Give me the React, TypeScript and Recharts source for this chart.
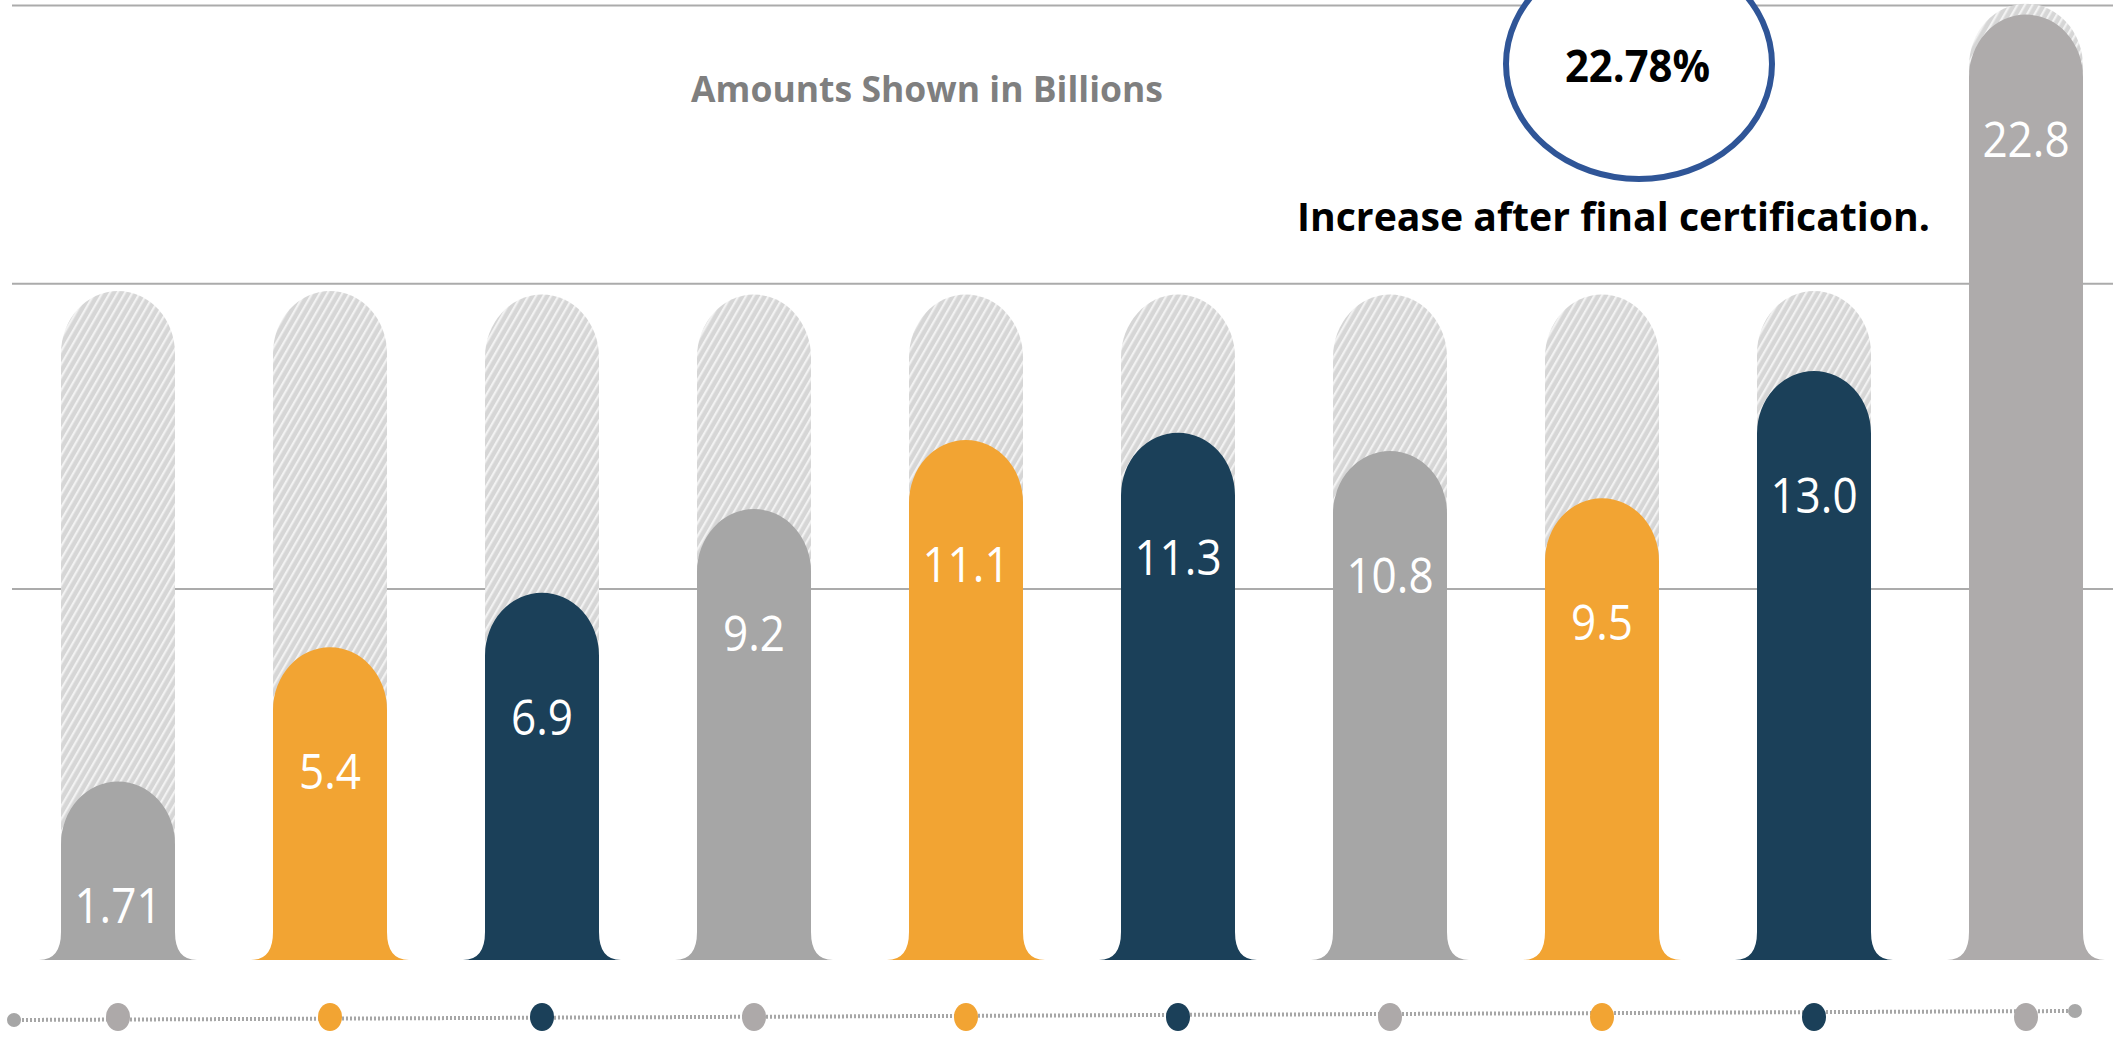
import React from 'react';
import { ComposedChart, Bar, Cell, XAxis, YAxis, CartesianGrid, LabelList } from 'recharts';

// values (billions)
const categories = ['P1', 'P2', 'P3', 'P4', 'P5', 'P6', 'P7', 'P8', 'P9', 'P10'];
const amounts = [1.71, 5.4, 6.9, 9.2, 11.1, 11.3, 10.8, 9.5, 13.0, 22.8];
const amountLabels = ['1.71', '5.4', '6.9', '9.2', '11.1', '11.3', '10.8', '9.5', '13.0', '22.8'];
const trackValues = [15.2, 15.2, 15.1, 15.1, 15.1, 15.1, 15.1, 15.1, 15.2, 23.1];
const gridValues = [7.0, 15.4, 23.05];

const titleText = 'Amounts Shown in Billions';
const increasePct = '22.78%';
const increaseNote = 'Increase after final certification.';

const BAR_COLORS = ['#A6A6A6', '#F2A433', '#1B4059', '#A6A6A6', '#F2A433', '#1B4059', '#A6A6A6', '#F2A433', '#1B4059', '#AEABAB'];
const DOT_COLORS = ['#ADA9A9', '#F2A433', '#1B4059', '#ADA9A9', '#F2A433', '#1B4059', '#ADA9A9', '#F2A433', '#1B4059', '#ADA9A9'];

const W = 2113;
const H = 1038;
const BAR_W = 114;
const PLOT_BOTTOM = 960;

const data = categories.map((c, i) => ({ name: c, amount: amounts[i], track: trackValues[i] }));

function bottomOf(p: any) {
	if (p.background && p.background.height) return p.background.y + p.background.height;
	return PLOT_BOTTOM;
}

function TrackShape(p: any) {
	const { x, y, width } = p;
	const bottom = bottomOf(p) - 30;
	const capH = width * 0.55;
	const d = `M ${x} ${bottom} L ${x} ${y + capH} A ${width / 2} ${capH} 0 0 1 ${x + width} ${y + capH} L ${x + width} ${bottom} Z`;
	return <path d={d} fill="url(#hatch)" />;
}

function ValueShape(p: any) {
	const { x, y, width, fill } = p;
	const bottom = bottomOf(p);
	const capH = width * 0.55;
	const fw = 22, fh = 28;
	const L = x, R = x + width;
	const d = `M ${L - fw} ${bottom} Q ${L} ${bottom} ${L} ${bottom - fh} L ${L} ${y + capH} A ${width / 2} ${capH} 0 0 1 ${R} ${y + capH} L ${R} ${bottom - fh} Q ${R} ${bottom} ${R + fw} ${bottom} Z`;
	return <path d={d} fill={fill} />;
}

function renderLabel(p: any) {
	const vb = p.viewBox || {};
	const x = Number(p.x ?? vb.x);
	const y = Number(p.y ?? vb.y);
	const width = Number(p.width ?? vb.width);
	const cx = x + width / 2;
	const ty = y + 142;
	return (
		<text transform={`translate(${cx},${ty}) scale(0.9,1)`} textAnchor="middle" fill="#FFFFFF" fontSize={49} fontFamily="'Open Sans', sans-serif">
			{amountLabels[p.index]}
		</text>
	);
}

function DotTick(p: any) {
	const i = categories.indexOf(p.payload.value);
	return <ellipse cx={p.x} cy={p.y + 57} rx={12} ry={14} fill={DOT_COLORS[i]} />;
}

export default function App() {
	return (
		<div style={{ position: 'fixed', left: 0, top: 0, width: W, height: H, overflow: 'hidden', background: '#fff' }}>
			<svg width={W} height={H} style={{ position: 'absolute', left: 0, top: 0 }}>
				<defs>
					<pattern id="hatch" patternUnits="userSpaceOnUse" width="6.5" height="6.5" patternTransform="rotate(30)">
						<rect width="6.5" height="6.5" fill="#D6D6D6" />
						<rect width="2.2" height="6.5" fill="#F2F2F2" />
					</pattern>
				</defs>
				<line x1={14} y1={1020} x2={2075} y2={1011} stroke="#A6A6A6" strokeWidth={4} strokeDasharray="2 2" />
				<circle cx={14} cy={1020} r={7} fill="#A6A6A6" />
				<circle cx={2075} cy={1011} r={7} fill="#A8A8A8" />
			</svg>

			<div style={{ position: 'absolute', left: 0, top: 0 }}>
				<ComposedChart width={2132} height={H} data={data} margin={{ top: 0, right: 0, bottom: 0, left: 12 }} barSize={BAR_W} barGap={-BAR_W}>
					<CartesianGrid vertical={false} horizontal={true} horizontalValues={gridValues} stroke="#ABABAB" strokeWidth={2} />
					<XAxis dataKey="name" height={78} axisLine={false} tickLine={false} tickSize={0} tickMargin={0} interval={0} tick={<DotTick />} />
					<YAxis hide domain={[-3.2, 23.2]} ticks={gridValues} type="number" />
					<Bar dataKey="track" shape={<TrackShape />} isAnimationActive={false} />
					<Bar dataKey="amount" shape={<ValueShape />} isAnimationActive={false}>
						{data.map((d, i) => <Cell key={d.name} fill={BAR_COLORS[i]} />)}
						<LabelList dataKey="amount" content={renderLabel} />
					</Bar>
				</ComposedChart>
			</div>

			<svg width={W} height={H} style={{ position: 'absolute', left: 0, top: 0, pointerEvents: 'none' }}>
				<text x={691} y={102} fontSize={35} fontWeight={700} fill="#7F7F7F" fontFamily="'Open Sans', sans-serif" textLength={472} lengthAdjust="spacingAndGlyphs">{titleText}</text>
				<ellipse cx={1639} cy={64} rx={133} ry={115} fill="#FFFFFF" stroke="#2F5597" strokeWidth={6} />
				<text x={1565} y={82} fontSize={45} fontWeight={700} fill="#000" fontFamily="'Open Sans', sans-serif" textLength={145} lengthAdjust="spacingAndGlyphs">{increasePct}</text>
				<text x={1297} y={231} fontSize={39} fontWeight={700} fill="#000" fontFamily="'Open Sans', sans-serif" textLength={633} lengthAdjust="spacingAndGlyphs">{increaseNote}</text>
			</svg>
		</div>
	);
}
